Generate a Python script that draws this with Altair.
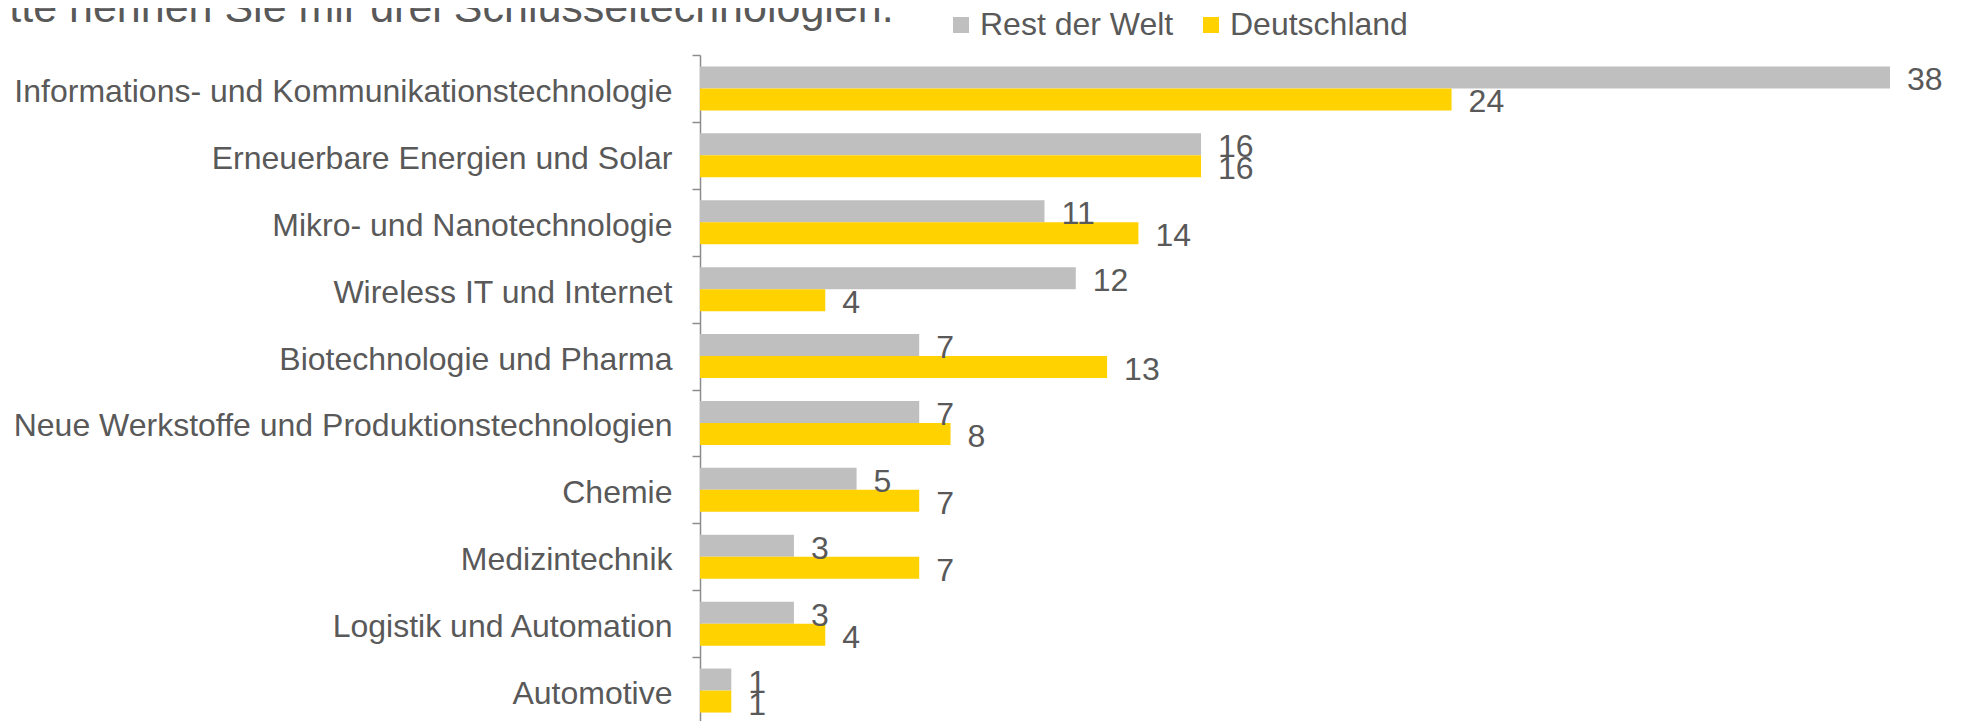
import altair as alt
import pandas as pd

categories = [
    "Informations- und Kommunikationstechnologie",
    "Erneuerbare Energien und Solar",
    "Mikro- und Nanotechnologie",
    "Wireless IT und Internet",
    "Biotechnologie und Pharma",
    "Neue Werkstoffe und Produktionstechnologien",
    "Chemie",
    "Medizintechnik",
    "Logistik und Automation",
    "Automotive",
]
rest_der_welt = [38, 16, 11, 12, 7, 7, 5, 3, 3, 1]
deutschland = [24, 16, 14, 4, 13, 8, 7, 7, 4, 1]
series_names = ["Rest der Welt", "Deutschland"]
series_colors = ["#BFBFBF", "#FFD200"]
title_text = "Bitte nennen Sie mir drei Schlüsseltechnologien."

rows = []
for c, r, d in zip(categories, rest_der_welt, deutschland):
    rows.append({"Kategorie": c, "Serie": series_names[0], "Wert": r})
    rows.append({"Kategorie": c, "Serie": series_names[1], "Wert": d})
df = pd.DataFrame(rows)

FONT = "Liberation Sans"
TXT = "#595959"
FS = 32

base = alt.Chart(df).encode(
    y=alt.Y(
        "Kategorie:N",
        sort=categories,
        scale=alt.Scale(range=[0, 669], paddingInner=0, paddingOuter=0),
        axis=alt.Axis(
            title=None,
            labelFontSize=FS,
            labelFont=FONT,
            labelColor=TXT,
            labelPadding=20,
            labelLimit=0,
            labelOffset=3,
            tickBand="extent",
            tickSize=8,
            tickColor="#8C8C8C",
            tickWidth=1.5,
            domainColor="#8C8C8C",
            domainWidth=1.5,
        ),
    ),
    yOffset=alt.YOffset(
        "Serie:N",
        sort=series_names,
        scale=alt.Scale(paddingInner=0, paddingOuter=0.52),
    ),
)

bars = base.mark_bar().encode(
    x=alt.X("Wert:Q", scale=alt.Scale(domain=[0, 38], nice=False), axis=None),
    color=alt.Color(
        "Serie:N",
        scale=alt.Scale(domain=series_names, range=series_colors),
        legend=alt.Legend(
            title=None,
            orient="none",
            legendX=245,
            legendY=-46,
            direction="horizontal",
            symbolType="square",
            symbolSize=256,
            symbolStrokeWidth=0,
            labelFontSize=FS,
            labelFont=FONT,
            labelColor=TXT,
            labelLimit=0,
            labelOffset=3,
            columnPadding=21,
        ),
    ),
)

labels = base.mark_text(
    align="left", baseline="middle", dx=17, dy=3, fontSize=FS, font=FONT, color=TXT
).encode(
    x=alt.X("Wert:Q"),
    text=alt.Text("Wert:Q"),
)

title_df = pd.DataFrame({"t": [title_text]})
title = alt.Chart(title_df).mark_text(
    align="left", baseline="alphabetic", fontSize=43, font=FONT, color=TXT
).encode(
    text="t:N",
    x=alt.value(-729),
    y=alt.value(-33),
)

chart = (
    alt.layer(bars, labels, title)
    .properties(
        width=1190,
        height=666,
        autosize=alt.AutoSizeParams(type="none"),
        padding={"left": 692, "top": 47, "right": 63, "bottom": 0},
    )
    .configure_view(stroke=None)
)

chart.save("out.html", embed_options={"renderer": "svg", "actions": False})
